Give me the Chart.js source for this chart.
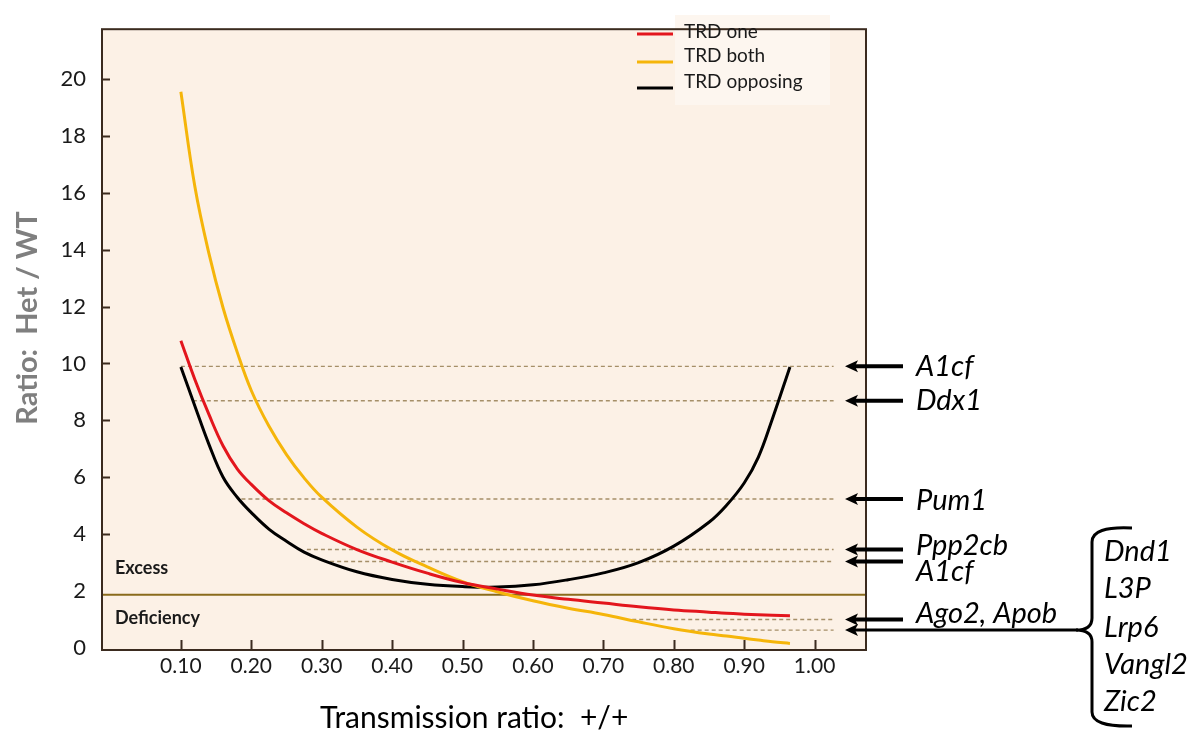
<!DOCTYPE html>
<html>
<head>
<meta charset="utf-8">
<title>TRD ratio chart</title>
<script src="https://cdn.jsdelivr.net/npm/chart.js"></script>
<style>
  html, body { margin: 0; padding: 0; background: #fff; }
  canvas { display: block; }
</style>
</head>
<body>
<canvas id="chart" width="1197" height="733"></canvas>
<script>
// x positions of the sampled points (transmission ratio +/+)
const xValues = [0.10, 0.12, 0.14, 0.16, 0.18, 0.20, 0.225, 0.25, 0.275, 0.30, 0.35, 0.40, 0.45,
  0.50, 0.55, 0.60, 0.65, 0.70, 0.75, 0.80, 0.85, 0.875, 0.90, 0.92, 0.94, 0.965];

// Het / WT ratio
const trdOne = [10.8, 9.43, 8.2, 7.1, 6.3, 5.75, 5.18, 4.75, 4.37, 4.03, 3.46, 3.02, 2.63,
  2.3, 2.07, 1.86, 1.71, 1.58, 1.45, 1.34, 1.26, 1.22, 1.19, 1.17, 1.15, 1.13];
const trdBoth = [19.55, 16.2, 13.85, 11.95, 10.4, 9.05, 7.8, 6.8, 5.98, 5.3, 4.25, 3.45, 2.85,
  2.33, 1.97, 1.66, 1.40, 1.18, 0.92, 0.68, 0.49, 0.42, 0.34, 0.28, 0.22, 0.16];
const trdOpposing = [9.88, 8.5, 7.15, 6.0, 5.3, 4.76, 4.18, 3.75, 3.37, 3.1, 2.68, 2.41, 2.24,
  2.16, 2.14, 2.22, 2.4, 2.64, 3.0, 3.58, 4.42, 5.02, 5.8, 6.7, 8.05, 9.88];

// dashed gene lines: level, where it starts, common end
const refLevels = [9.9, 8.69, 5.24, 3.46, 3.04, 1.0, 0.63];
const refStarts = [0.10, 0.117, 0.186, 0.279, 0.312, 0.741, 0.824];
const refEnd = 1.027;

// excess / deficiency boundary
const thresholdLevel = 1.87;

const geneLabels = ['A1cf', 'Ddx1', 'Pum1', 'Ppp2cb', 'A1cf', 'Ago2, Apob'];
const groupLabels = ['Dnd1', 'L3P', 'Lrp6', 'Vangl2', 'Zic2'];

const xTickValues = [0.10, 0.20, 0.30, 0.40, 0.50, 0.60, 0.70, 0.80, 0.90, 1.00];
const yTickValues = [0, 2, 4, 6, 8, 10, 12, 14, 16, 18, 20];

const seriesNames = ['TRD one', 'TRD both', 'TRD opposing'];
const seriesColors = ['#e3161d', '#f5b50a', '#000000'];

const X_MIN = -0.012, X_MAX = 1.073;
const FRAME = '#3b2b1f';
const FONT = 'Lato, "Open Sans", sans-serif';

const toPoints = ys => ys.map((y, i) => ({ x: xValues[i], y: y }));

const datasets = [trdOne, trdBoth, trdOpposing].map((ys, i) => ({
  label: seriesNames[i],
  data: toPoints(ys),
  borderColor: seriesColors[i],
  borderWidth: 3,
  pointRadius: 0,
  tension: 0.4,
  fill: false
}));

refLevels.forEach((lvl, i) => {
  datasets.push({
    label: 'ref' + i,
    data: [{ x: refStarts[i], y: lvl }, { x: refEnd, y: lvl }],
    borderColor: '#a58f68',
    borderWidth: 1.4,
    borderDash: [4, 3],
    pointRadius: 0,
    fill: false
  });
});

datasets.push({
  label: 'threshold',
  data: [{ x: X_MIN, y: thresholdLevel }, { x: X_MAX, y: thresholdLevel }],
  borderColor: '#8a6b1c',
  borderWidth: 2,
  pointRadius: 0,
  fill: false
});

function drawArrow(ctx, xTip, xTail, y, width) {
  ctx.lineWidth = width;
  ctx.beginPath();
  ctx.moveTo(xTip + 8, y);
  ctx.lineTo(xTail, y);
  ctx.stroke();
  ctx.beginPath();
  ctx.moveTo(xTip, y);
  ctx.lineTo(xTip + 13, y - 6);
  ctx.lineTo(xTip + 10, y);
  ctx.lineTo(xTip + 13, y + 6);
  ctx.closePath();
  ctx.fill();
}

const decorations = {
  id: 'decorations',
  beforeDraw(chart) {
    const { ctx, chartArea: a } = chart;
    ctx.save();
    ctx.fillStyle = '#ffffff';
    ctx.fillRect(0, 0, chart.width, chart.height);
    ctx.fillStyle = '#fcf1e6';
    ctx.fillRect(a.left, a.top, a.right - a.left, a.bottom - a.top);
    // faint legend panel
    ctx.fillStyle = '#fdf6ef';
    ctx.fillRect(675, 15, 155, 90);
    ctx.restore();
  },
  afterDraw(chart) {
    const { ctx, chartArea: a } = chart;
    const xs = chart.scales.x, ys = chart.scales.y;
    ctx.save();

    // frame
    ctx.strokeStyle = FRAME;
    ctx.lineWidth = 2;
    ctx.strokeRect(a.left, a.top, a.right - a.left, a.bottom - a.top);

    // inward ticks
    ctx.lineWidth = 2;
    ctx.beginPath();
    xs.ticks.forEach(t => {
      const px = Math.round(xs.getPixelForValue(t.value)) + 0.5;
      ctx.moveTo(px, a.bottom);
      ctx.lineTo(px, a.bottom - 10);
    });
    ys.ticks.forEach(t => {
      if (t.value < 4) return;
      const py = Math.round(ys.getPixelForValue(t.value)) + 0.5;
      ctx.moveTo(a.left, py);
      ctx.lineTo(a.left + 8, py);
    });
    ctx.stroke();

    // legend
    ctx.textBaseline = 'middle';
    ctx.textAlign = 'left';
    ctx.font = '19px ' + FONT;
    const legLineY = [34, 62, 88];
    const legTextY = [32, 56, 82];
    seriesNames.forEach((name, i) => {
      ctx.strokeStyle = seriesColors[i];
      ctx.lineWidth = 3;
      ctx.beginPath();
      ctx.moveTo(637, legLineY[i]);
      ctx.lineTo(673, legLineY[i]);
      ctx.stroke();
      ctx.fillStyle = '#1a1a1a';
      ctx.fillText(name, 684, legTextY[i]);
    });

    // region labels
    ctx.font = 'bold 18px ' + FONT;
    ctx.fillStyle = '#1a1a1a';
    ctx.fillText('Excess', a.left + 13, 568);
    ctx.fillText('Deficiency', a.left + 13, 618);

    // arrows and gene names
    ctx.strokeStyle = '#000';
    ctx.fillStyle = '#000';
    const tip = a.right - 21, tail = a.right + 37;
    const textNudge = [0, 0, 2, -4, 10, -6];
    ctx.font = 'italic 29px ' + FONT;
    geneLabels.forEach((name, i) => {
      const y = ys.getPixelForValue(refLevels[i]);
      drawArrow(ctx, tip, tail, y, 4);
      ctx.fillText(name, a.right + 50, y + textNudge[i]);
    });

    // grouped genes with brace
    const gy = ys.getPixelForValue(refLevels[6]);
    drawArrow(ctx, tip, 1078, gy, 3);
    ctx.lineWidth = 3;
    ctx.beginPath();
    ctx.moveTo(1132, 528);
    ctx.quadraticCurveTo(1092, 526, 1092, 542);
    ctx.lineTo(1092, 618);
    ctx.quadraticCurveTo(1092, gy, 1076, gy);
    ctx.quadraticCurveTo(1092, gy, 1092, gy + 12);
    ctx.lineTo(1092, 712);
    ctx.quadraticCurveTo(1092, 727, 1132, 726);
    ctx.stroke();
    const groupY = [552, 589, 628, 665, 702];
    groupLabels.forEach((name, i) => ctx.fillText(name, 1104, groupY[i]));

    // axis titles
    ctx.font = '30px ' + FONT;
    ctx.textBaseline = 'alphabetic';
    ctx.fillText('Transmission ratio:  +/+', 320, 728);
    ctx.save();
    ctx.translate(28, 318);
    ctx.rotate(-Math.PI / 2);
    ctx.textAlign = 'center';
    ctx.textBaseline = 'middle';
    ctx.font = 'bold 29px ' + FONT;
    ctx.fillStyle = '#7f7f7f';
    ctx.fillText('Ratio:  Het / WT', 0, 0);
    ctx.restore();

    ctx.restore();
  }
};

new Chart(document.getElementById('chart'), {
  type: 'line',
  data: { datasets: datasets },
  options: {
    responsive: false,
    animation: false,
    layout: { padding: { top: 7, right: 331, left: 0, bottom: 0 } },
    plugins: { legend: { display: false }, tooltip: { enabled: false } },
    scales: {
      x: {
        type: 'linear',
        min: X_MIN,
        max: X_MAX,
        afterBuildTicks: s => { s.ticks = xTickValues.map(v => ({ value: v })); },
        afterFit: s => { s.height = 83; },
        grid: { display: false, drawTicks: false },
        border: { display: false },
        ticks: {
          autoSkip: false,
          maxRotation: 0,
          padding: 4,
          color: '#1a1a1a',
          font: { family: FONT, size: 21 },
          callback: v => v.toFixed(2)
        }
      },
      y: {
        min: -0.07,
        max: 21.75,
        afterBuildTicks: s => { s.ticks = yTickValues.map(v => ({ value: v })); },
        afterFit: s => { s.width = 102; },
        grid: { display: false, drawTicks: false },
        border: { display: false },
        ticks: {
          padding: 16,
          color: '#1a1a1a',
          font: { family: FONT, size: 22 },
          callback: v => String(v)
        }
      }
    }
  },
  plugins: [decorations]
});
</script>
</body>
</html>
